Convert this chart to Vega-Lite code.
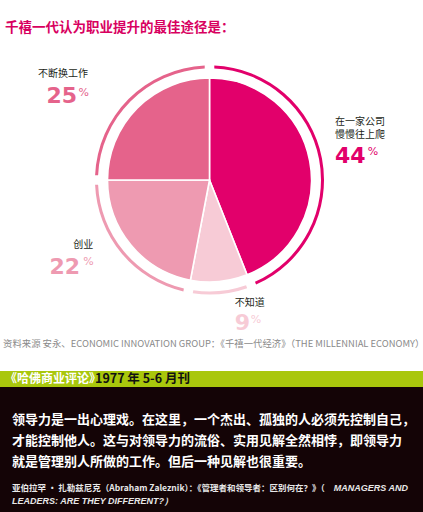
{
  "$schema": "https://vega.github.io/schema/vega-lite/v6.json",
  "background": "#ffffff",
  "padding": {"top": 20, "left": 0, "right": 0, "bottom": 0},
  "title": {"text": "千禧一代认为职业提升的最佳途径是：", "anchor": "start", "font": "Noto Sans CJK SC", "fontSize": 13.5, "fontWeight": "bold", "color": "#D8005F", "offset": 0, "dx": 5},
  "datasets": {
    "survey": [
      {"way": "在一家公司\n慢慢往上爬", "pct": 44, "rank": 1},
      {"way": "不知道", "pct": 9, "rank": 2},
      {"way": "创业", "pct": 22, "rank": 3},
      {"way": "不断换工作", "pct": 25, "rank": 4}
    ],
    "notes": [
      {"role": "journal", "text": "《哈佛商业评论》"},
      {"role": "issue", "text": "1977 年 5-6 月刊"},
      {"role": "quote", "text": "领导力是一出心理戏。在这里，一个杰出、孤独的人必须先控制自己，\n才能控制他人。这与对领导力的流俗、实用见解全然相悖，即领导力\n就是管理别人所做的工作。但后一种见解也很重要。"},
      {"role": "author", "text": "亚伯拉罕 · 扎勒兹尼克（Abraham Zaleznik）：《管理者和领导者：区别何在？》（"},
      {"role": "titleA", "text": "MANAGERS AND"},
      {"role": "titleB", "text": "LEADERS: ARE THEY DIFFERENT?）"}
    ]
  },
  "spacing": 22,
  "vconcat": [
    {
      "width": 419,
      "height": 292,
      "data": {"name": "survey"},
      "title": {"text": "资料来源  安永、ECONOMIC INNOVATION GROUP：《千禧一代经济》（THE MILLENNIAL ECONOMY）", "orient": "bottom", "frame": "group", "anchor": "start", "baseline": "top", "font": "Noto Sans CJK SC", "fontSize": 9.4, "fontWeight": "normal", "color": "#8a8a8a", "offset": 6, "dx": 3},
      "encoding": {
        "theta": {"field": "pct", "type": "quantitative", "stack": true},
        "order": {"field": "rank", "type": "quantitative"},
        "detail": {"field": "way", "type": "nominal"}
      },
      "layer": [
        {
          "mark": {"type": "arc", "outerRadius": 102, "stroke": "#ffffff", "strokeWidth": 1.6},
          "encoding": {"color": {"field": "way", "type": "nominal", "legend": null, "scale": {"domain": ["在一家公司\n慢慢往上爬", "不知道", "创业", "不断换工作"], "range": ["#E2006B", "#F7CBD6", "#EE9AB1", "#E5638B"]}}}
        },
        {
          "mark": {"type": "arc", "innerRadius": 111.5, "outerRadius": 114.5, "padAngle": 0.06},
          "encoding": {"color": {"field": "way", "type": "nominal", "legend": null}}
        },
        {
          "mark": {"type": "text", "radius": 120, "font": "Noto Sans CJK SC", "fontSize": 10, "color": "#231f20", "align": "left", "baseline": "middle", "lineBreak": "\n", "lineHeight": 13, "dx": 7.6, "dy": -35.5},
          "encoding": {"text": {"condition": {"test": "datum.pct === 44", "field": "way"}, "value": ""}}
        },
        {
          "mark": {"type": "text", "radius": 120, "font": "DejaVu Sans", "fontWeight": "bold", "fontSize": 22, "color": "#E2006B", "align": "left", "baseline": "alphabetic", "dx": 7.6, "dy": 5.5},
          "encoding": {"text": {"condition": {"test": "datum.pct === 44", "field": "pct", "type": "quantitative"}, "value": ""}}
        },
        {
          "mark": {"type": "text", "radius": 120, "font": "DejaVu Sans", "fontSize": 11, "color": "#E2006B", "align": "left", "baseline": "alphabetic", "dx": 40.5, "dy": -2.5},
          "encoding": {"text": {"condition": {"test": "datum.pct === 44", "value": "%"}, "value": ""}}
        },
        {
          "mark": {"type": "text", "radius": 130, "font": "Noto Sans CJK SC", "fontSize": 10, "color": "#231f20", "align": "left", "baseline": "middle", "dx": 13, "dy": -6},
          "encoding": {"text": {"condition": {"test": "datum.pct === 9", "field": "way"}, "value": ""}}
        },
        {
          "mark": {"type": "text", "radius": 130, "font": "DejaVu Sans", "fontWeight": "bold", "fontSize": 22, "color": "#F7CBD6", "align": "left", "baseline": "alphabetic", "dx": 13, "dy": 20.5},
          "encoding": {"text": {"condition": {"test": "datum.pct === 9", "field": "pct", "type": "quantitative"}, "value": ""}}
        },
        {
          "mark": {"type": "text", "radius": 130, "font": "DejaVu Sans", "fontSize": 11, "color": "#F7CBD6", "align": "left", "baseline": "alphabetic", "dx": 29, "dy": 14},
          "encoding": {"text": {"condition": {"test": "datum.pct === 9", "value": "%"}, "value": ""}}
        },
        {
          "mark": {"type": "text", "radius": 140, "font": "Noto Sans CJK SC", "fontSize": 10, "color": "#231f20", "align": "right", "baseline": "middle", "dx": -8.5, "dy": -24},
          "encoding": {"text": {"condition": {"test": "datum.pct === 22", "field": "way"}, "value": ""}}
        },
        {
          "mark": {"type": "text", "radius": 140, "font": "DejaVu Sans", "fontWeight": "bold", "fontSize": 22, "color": "#EE9AB1", "align": "right", "baseline": "alphabetic", "dx": -21.5, "dy": 5},
          "encoding": {"text": {"condition": {"test": "datum.pct === 22", "field": "pct", "type": "quantitative"}, "value": ""}}
        },
        {
          "mark": {"type": "text", "radius": 140, "font": "DejaVu Sans", "fontSize": 11, "color": "#EE9AB1", "align": "left", "baseline": "alphabetic", "dx": -18.5, "dy": -4},
          "encoding": {"text": {"condition": {"test": "datum.pct === 22", "value": "%"}, "value": ""}}
        },
        {
          "mark": {"type": "text", "radius": 110, "font": "Noto Sans CJK SC", "fontSize": 10, "color": "#231f20", "align": "right", "baseline": "middle", "dx": -43.7, "dy": -28.2},
          "encoding": {"text": {"condition": {"test": "datum.pct === 25", "field": "way"}, "value": ""}}
        },
        {
          "mark": {"type": "text", "radius": 110, "font": "DejaVu Sans", "fontWeight": "bold", "fontSize": 22, "color": "#E5638B", "align": "right", "baseline": "alphabetic", "dx": -54.7, "dy": 0.8},
          "encoding": {"text": {"condition": {"test": "datum.pct === 25", "field": "pct", "type": "quantitative"}, "value": ""}}
        },
        {
          "mark": {"type": "text", "radius": 110, "font": "DejaVu Sans", "fontSize": 11, "color": "#E5638B", "align": "left", "baseline": "alphabetic", "dx": -53.2, "dy": -6.2},
          "encoding": {"text": {"condition": {"test": "datum.pct === 25", "value": "%"}, "value": ""}}
        }
      ]
    },
    {
      "spacing": 0,
      "vconcat": [
        {
          "width": 423,
          "height": 16,
          "view": {"fill": "#A9C70C", "stroke": null},
          "data": {"name": "notes"},
          "layer": [
            {
              "transform": [{"filter": "datum.role === 'journal'"}],
              "mark": {"type": "text", "font": "Noto Sans CJK SC", "fontSize": 12, "fontWeight": "bold", "color": "#ffffff", "align": "left", "baseline": "middle", "dx": -206.5},
              "encoding": {"text": {"field": "text"}}
            },
            {
              "transform": [{"filter": "datum.role === 'issue'"}],
              "mark": {"type": "text", "font": "Noto Sans CJK SC", "fontSize": 12.5, "fontWeight": "bold", "color": "#111111", "align": "left", "baseline": "middle", "dx": -116.5},
              "encoding": {"text": {"field": "text"}}
            }
          ]
        },
        {
          "width": 423,
          "height": 126,
          "view": {"fill": "#140406", "stroke": null},
          "data": {"name": "notes"},
          "layer": [
            {
              "transform": [{"filter": "datum.role === 'quote'"}],
              "mark": {"type": "text", "font": "Noto Sans CJK SC", "fontSize": 13, "fontWeight": "bold", "color": "#ffffff", "align": "left", "baseline": "middle", "lineBreak": "\n", "lineHeight": 21, "dx": -199.5, "dy": -30},
              "encoding": {"text": {"field": "text"}}
            },
            {
              "transform": [{"filter": "datum.role === 'author'"}],
              "mark": {"type": "text", "font": "Noto Sans CJK SC", "fontSize": 8.5, "fontWeight": "bold", "color": "#e8e8e8", "align": "left", "baseline": "middle", "dx": -199.5, "dy": 38},
              "encoding": {"text": {"field": "text"}}
            },
            {
              "transform": [{"filter": "datum.role === 'titleA'"}],
              "mark": {"type": "text", "font": "Liberation Sans", "fontStyle": "italic", "fontWeight": "bold", "fontSize": 9, "color": "#e8e8e8", "align": "right", "baseline": "middle", "dx": 196.5, "dy": 38},
              "encoding": {"text": {"field": "text"}}
            },
            {
              "transform": [{"filter": "datum.role === 'titleB'"}],
              "mark": {"type": "text", "font": "Liberation Sans", "fontStyle": "italic", "fontWeight": "bold", "fontSize": 9, "color": "#e8e8e8", "align": "left", "baseline": "middle", "dx": -199.5, "dy": 50.5},
              "encoding": {"text": {"field": "text"}}
            }
          ]
        }
      ]
    }
  ],
  "config": {"view": {"stroke": null}}
}
